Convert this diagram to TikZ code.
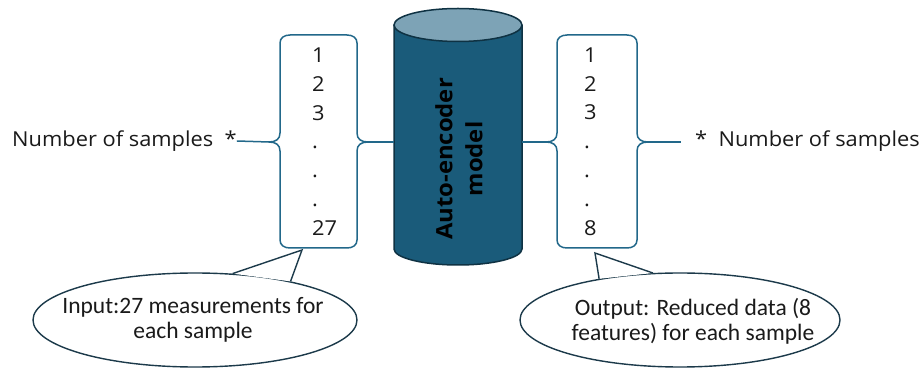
\documentclass[tikz,border=0pt]{standalone}
\usepackage{fontspec}
\newfontfamily\labelfont[FakeStretch=1.06]{Open Sans}
\newfontfamily\bubblefont{Carlito}
\usetikzlibrary{shapes.geometric}

\definecolor{bracecol}{HTML}{22688A}
\definecolor{cylbody}{HTML}{1A5B7A}
\definecolor{cyltop}{HTML}{7DA3B6}
\definecolor{cylline}{HTML}{0F3243}
\definecolor{bubbleline}{HTML}{1C3A4A}
\definecolor{inktext}{HTML}{1A1A1A}

\tikzset{
  brace/.style={draw=bracecol, line width=1.5pt, line join=round},
  cylstroke/.style={draw=cylline, line width=1.5pt},
  bubble/.style={ellipse, draw=bubbleline, line width=1.4pt, fill=white, inner sep=0pt},
  pointer/.style={draw=bubbleline, line width=1.4pt, line join=miter},
  bubbletext/.style={font=\bubblefont\fontsize{23.5}{25}\selectfont, text=inktext, align=center, inner sep=0pt},
  labeltext/.style={font=\labelfont\fontsize{20.6}{24}\selectfont, text=inktext, inner sep=0pt},
  numtext/.style={font=\labelfont\fontsize{20.6}{28.8}\selectfont, text=inktext, align=left, inner sep=0pt},
  modeltext/.style={font=\labelfont\bfseries\fontsize{22.5}{30}\selectfont, text=black, align=center, inner sep=0pt, rotate=90},
}

% Brace pair outline: #1 left x, #2 right x, #3 top y, #4 bottom y, #5 tip y, #6 name
\newcommand\bracepair[6]{%
  \draw[brace]
    (#1,#3+8) .. controls (#1,#3+3) and (#1+4,#3) .. (#1+10,#3)
    -- (#2-10,#3) .. controls (#2-4,#3) and (#2,#3+3) .. (#2,#3+8)
    -- (#2,#5-9) .. controls (#2,#5-3) and (#2+4,#5) .. (#2+11,#5)
       .. controls (#2+4,#5) and (#2,#5+3) .. (#2,#5+9)
    -- (#2,#4-8) .. controls (#2,#4-3) and (#2-4,#4) .. (#2-10,#4)
    -- (#1+10,#4) .. controls (#1+4,#4) and (#1,#4-3) .. (#1,#4-8)
    -- (#1,#5+9) .. controls (#1,#5+3) and (#1-4,#5) .. (#1-11,#5)
       .. controls (#1-4,#5) and (#1,#5-3) .. (#1,#5-9)
    -- cycle;
  \coordinate (#6-w) at (#1-11,#5);
  \coordinate (#6-e) at (#2+11,#5);
}

\begin{document}
\begin{tikzpicture}[x=1pt, y=-1pt]
  \useasboundingbox (0,0) rectangle (924,371);
  \fill[white] (0,0) rectangle (924,371);

  % callout bubbles
  \node[bubble, minimum width=324pt, minimum height=94pt] (inbubble) at (195,320) {};
  \coordinate (inptr) at (302,250);
  \fill[white] (inbubble.51) -- (inptr) -- (inbubble.22) -- cycle;
  \draw[pointer] (inbubble.51) -- (inptr) -- (inbubble.22);
  \node[bubbletext] (intext) at (193,320) {Input:27 measurements for\\each sample};

  \node[bubble, minimum width=320pt, minimum height=94pt] (outbubble) at (680,320) {};
  \coordinate (outptr) at (595,253);
  \fill[white] (outbubble.153) -- (outptr) -- (outbubble.120) -- cycle;
  \draw[pointer] (outbubble.153) -- (outptr) -- (outbubble.120);
  \node[bubbletext] (outtext) at (693,321) {Output: Reduced data (8\\features) for each sample};

  % auto-encoder cylinder
  \fill[cylbody] (394,25) -- (394,249)
    .. controls (394,257.8) and (422.7,265) .. (458,265)
    .. controls (493.3,265) and (522,257.8) .. (522,249) -- (522,25) -- cycle;
  \draw[cylstroke] (394,25) -- (394,249)
    .. controls (394,257.8) and (422.7,265) .. (458,265)
    .. controls (493.3,265) and (522,257.8) .. (522,249) -- (522,25);
  \draw[cylstroke, fill=cyltop] (458,25) ellipse [x radius=64pt, y radius=16.5pt];
  \node[modeltext] (model) at (459,159) {Auto-encoder\\model};
  \coordinate (cylw) at (394,142);
  \coordinate (cyle) at (522,142);

  % input column
  \bracepair{280}{357}{35}{248}{142}{incol}
  \node[numtext, anchor=west] (inlist) at (312,141.5) {1\\2\\3\\.\\.\\.\\27};

  % output column
  \bracepair{557}{637}{35}{248}{142}{outcol}
  \node[numtext, anchor=west] (outlist) at (584,141.5) {1\\2\\3\\.\\.\\.\\8};

  % side labels
  \node[labeltext, anchor=west] (inlabel) at (12,141) {Number of samples\ \ *};
  \node[labeltext, anchor=west] (outlabel) at (695,141) {*\ \ Number of samples};
  \coordinate (outend) at (681,142);

  % connectors
  \draw[brace] (inlabel.east) -- (incol-w);
  \draw[brace] (incol-e) -- (cylw);
  \draw[brace] (cyle) -- (outcol-w);
  \draw[brace] (outcol-e) -- (outend);
\end{tikzpicture}
\end{document}
